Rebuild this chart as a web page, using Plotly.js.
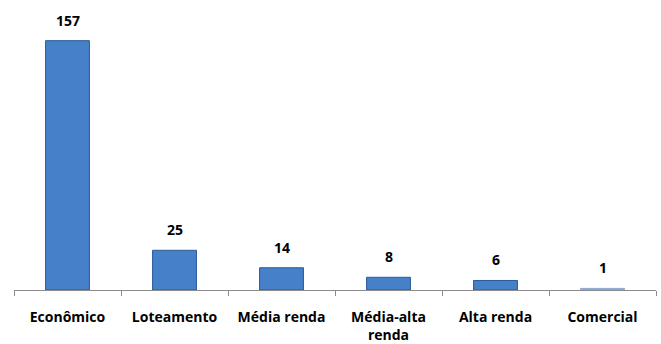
<!DOCTYPE html>
<html><head><meta charset="utf-8">
<script src="https://cdn.plot.ly/plotly-3.0.1.min.js"></script>
<style>html,body{margin:0;padding:0;background:#fff}</style>
</head><body><div id="chart" style="width:661px;height:344px"></div>
<script>
var categories = ["Econômico", "Loteamento", "Média renda", "Média-alta<br>renda", "Alta renda", "Comercial"];
var values = [157, 25, 14, 8, 6, 1];
var barColors = ["#4580c8", "#4580c8", "#4580c8", "#4580c8", "#4580c8", "#8aa8d6"];
var lineColors = ["#2b5a99", "#2b5a99", "#2b5a99", "#2b5a99", "#2b5a99", "#8aa8d6"];

var font = "'Open Sans', sans-serif";
var trace = {
  type: "bar",
  x: categories,
  y: values,
  width: 0.41,
  marker: {color: barColors, line: {color: lineColors, width: 1}},
  hoverinfo: "none"
};
var annotations = categories.map(function(c, i){
  return {x: c, y: values[i], text: String(values[i]), showarrow: false,
    yanchor: "bottom", yshift: 9, font: {family: font, size: 14, color: "#000", weight: "bold"}};
});
var layout = {
  width: 661, height: 344,
  margin: {l: 14, r: 5, t: 20, b: 54},
  paper_bgcolor: "#fff", plot_bgcolor: "#fff",
  showlegend: false,
  bargap: 0.59,
  xaxis: {
    showline: true, linecolor: "#8c8c8c", linewidth: 1,
    ticks: "outside", tickson: "boundaries", ticklen: 5, tickcolor: "#8c8c8c",
    showgrid: false, zeroline: false,
    tickfont: {family: font, size: 14, color: "#000", weight: "bold"},
    ticklabelstandoff: 14
  },
  yaxis: {range: [0, 170], visible: false, showgrid: false, zeroline: false},
  annotations: annotations
};
Plotly.newPlot("chart", [trace], layout, {displayModeBar: false, staticPlot: true});
</script></body></html>
